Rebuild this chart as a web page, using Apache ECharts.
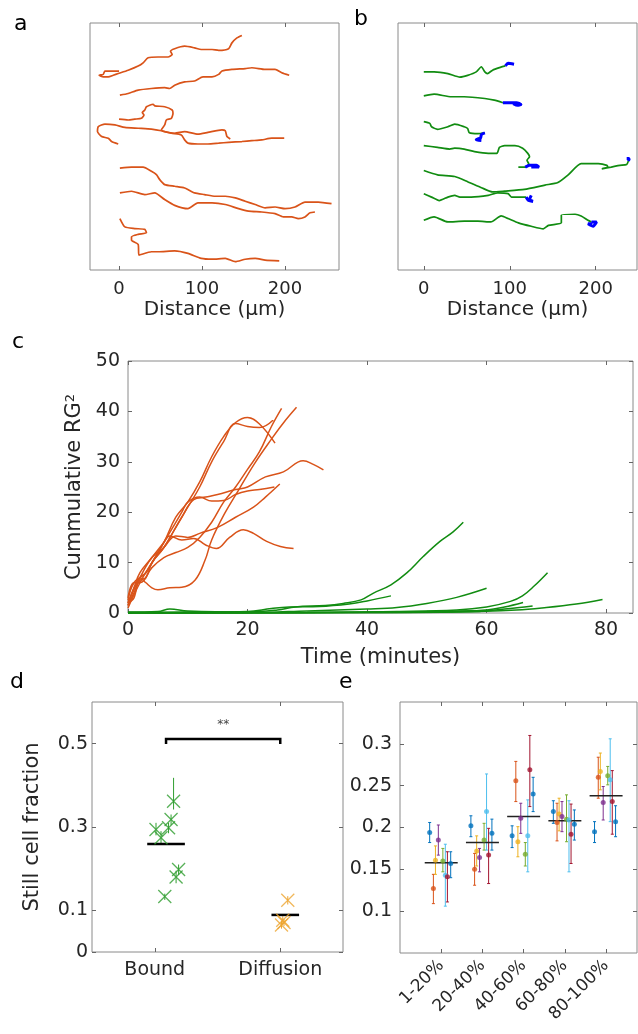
<!DOCTYPE html>
<html>
<head>
<meta charset="utf-8">
<title>Cell tracks</title>
<script src="https://cdn.jsdelivr.net/npm/echarts@6/dist/echarts.min.js"></script>
<style>
  html, body { margin: 0; padding: 0; background: #fff; }
  #main { width: 638px; height: 1034px; }
</style>
</head>
<body>
<div id="main"></div>
<script>
// ========================== 数据 ==========================
// a - 扩散细胞轨迹 (um)
var tracksA = [
  [[0,240],[-5,240],[-17,240],[-19,236],[-24,235],[-19,233],[-13,233],[-7,235],[-1,237],[11,241],[23,246],[29,250],[35,256],[47,257],[59,257],[64,260],[62,264],[67,267],[79,270],[91,268],[99,266],[112,266],[120,265],[132,267],[136,274],[142,280],[148,283]],
  [[1,211],[11,213],[23,217],[39,219],[55,220],[61,219],[67,223],[79,227],[91,228],[101,233],[112,233],[120,236],[124,240],[136,242],[152,243],[160,244],[176,242],[188,242],[196,238],[205,235]],
  [[0,182],[11,181],[19,182],[27,183],[30,187],[28,190],[31,193],[33,197],[41,200],[43,198],[55,197],[64,193],[65,189],[63,183],[57,181],[55,175],[51,169],[55,167],[67,165],[79,167],[95,164],[107,166],[124,169],[128,168],[130,161],[134,158]],
  [[-1,152],[-9,155],[-13,159],[-21,161],[-26,167],[-25,173],[-17,176],[-5,175],[7,172],[23,171],[39,170],[51,168],[63,165],[75,163],[79,157],[83,153],[95,152],[107,152],[120,153],[132,154],[148,155],[160,156],[172,157],[184,159],[199,159]],
  [[1,123],[15,124],[29,124],[39,119],[45,115],[49,109],[55,103],[67,101],[79,99],[91,93],[103,91],[116,89],[128,89],[140,87],[152,83],[164,79],[176,75],[188,76],[200,74],[212,76],[224,82],[240,82],[256,80]],
  [[1,93],[15,95],[31,91],[43,93],[55,85],[67,78],[83,74],[95,81],[112,81],[128,79],[144,74],[156,71],[172,70],[188,68],[198,64],[208,64],[216,62],[224,64],[230,69],[236,70]],
  [[1,62],[7,52],[19,50],[31,49],[33,45],[23,43],[15,40],[15,36],[23,31],[24,18],[39,22],[47,22],[67,23],[83,20],[99,14],[112,13],[128,14],[140,10],[152,13],[164,14],[176,12],[193,11]]
];

// b - 结合细胞轨迹：绿色为移动段，蓝色为静止段
var tracksBMove = [
  [[0,231],[12,231],[28,229],[42,225],[51,227],[61,231],[67,237],[71,231],[74,229],[80,233],[88,236],[95,238]],
  [[0,203],[12,205],[32,202],[47,202],[71,200],[82,198],[92,195]],
  [[0,173],[7,171],[9,167],[16,164],[28,167],[36,170],[47,167],[51,165],[53,160],[63,159],[71,160]],
  [[0,145],[16,143],[30,141],[36,142],[47,141],[59,138],[75,136],[85,136],[88,143],[94,145],[106,145],[115,142],[121,136],[123,132],[120,128],[122,124],[119,120],[110,120],[118,120]],
  [[0,116],[16,111],[36,109],[51,103],[67,96],[80,91],[94,92],[117,94],[141,99],[156,102],[168,111],[183,124],[203,124],[213,122],[214,120],[207,118],[218,120],[228,122],[236,123],[238,127]],
  [[0,89],[9,85],[18,81],[28,85],[36,87],[42,85],[55,85],[75,87],[86,90],[98,89],[102,85],[119,85]],
  [[0,58],[12,62],[28,56],[47,57],[63,57],[78,56],[90,63],[98,60],[110,55],[125,51],[139,48],[145,52],[160,55],[160,64],[176,65],[183,63],[191,58],[195,56]]
];
var tracksBStill = [
  [[95,238],[98,241],[105,240]],
  [[92,195],[102,195],[108,195],[113,193],[109,192],[104,194]],
  [[71,160],[67,158],[66,154],[61,152],[67,151]],
  [[118,120],[123,122],[131,122],[134,120],[125,120]],
  [[238,127],[239,130],[236,130]],
  [[119,85],[122,81],[127,80],[123,82],[125,87]],
  [[195,56],[201,56],[197,51],[191,54],[196,54]]
];

// c - 累计 RG^2 随时间变化 [分钟, 值]
var rgDiffusion = [
  [[0,2],[1,5],[2,7],[3,8],[4,10],[6,14],[8,19],[10,22],[12,26],[14,31],[16,35],[18,37.8],[20,38.8],[22,37.5],[24.6,33.7]],
  [[0,1.5],[1,4],[2,6.5],[3,7],[4,10],[6,13],[8,17],[10,21],[12,25],[14,30],[16,34],[18,37.6],[20,37],[22,36.8],[24.3,38.3]],
  [[0,3],[1,6],[2,6],[4,9],[6,11],[8,12],[10,13],[12,15],[14,18],[16,22],[18,25],[20,28.5],[22,32],[24,37],[25.7,40.6]],
  [[0,2],[1,3],[2,7],[3,6],[4,5],[5,4.6],[7,5],[9,5.1],[11.2,6.5],[12.9,10.5],[14,14.5],[16.2,19.8],[18.5,24.4],[21.2,29.7],[24,34.5],[26,37.7],[28.2,40.8]],
  [[0,1],[2,6],[4,10],[6,13],[9,19],[11,22.5],[13,23],[15,23.5],[18,24.5],[20,25],[23,27],[26,28],[29.3,30.2],[31,29.5],[32.7,28.4]],
  [[0,2],[2,7],[4,11],[6,13],[8,15.3],[10,15],[12,15.8],[15,17],[18,19],[21,21],[23,23],[25.4,25.6]],
  [[0,1.5],[1,5],[2,8],[4,11],[6,14],[7,15.3],[9,14.5],[11,14.8],[13,13.5],[14.8,12.8],[17,15],[19.3,16.5],[21,15.8],[23.2,14.2],[25.5,13.2],[27.7,12.8]],
  [[0,2.5],[1,6],[3,8],[5,12],[7,16],[9,20],[10,22],[12,23],[14,22.2],[16,22.3],[18,23.5],[20,24.2],[22,24.5],[24.5,25]]
];
var rgBound = [
  [[0,0.2],[5,0.3],[7,0.8],[10,0.4],[20,0.2],[25,0.6],[28,1.2],[33,1.5],[36,1.9],[39,2.6],[41,3.9],[44,5.6],[46.6,7.9],[49.4,11.2],[52.2,14.2],[54.4,16.1],[56.1,18]],
  [[0,0.1],[10,0.2],[20,0.3],[24,0.9],[27,1.2],[32,1.3],[37,1.8],[40,2.4],[44,3.4]],
  [[0,0.1],[20,0.1],[30,0.4],[40,0.8],[45,1.1],[50,1.9],[55,3.1],[60,4.9]],
  [[0,0],[30,0.1],[45,0.3],[55,0.6],[60,1.2],[64,2.3],[66,3.4],[68,5.4],[70.2,8]],
  [[0,0],[40,0.1],[55,0.2],[65,0.6],[70,1.1],[75,1.8],[79.4,2.7]],
  [[0,0],[40,0.1],[55,0.3],[60,0.6],[63,1.2],[66.1,2.1]],
  [[0,0],[40,0.1],[58,0.3],[63,0.8],[67.7,1.4]],
  [[0,0],[30,0.1],[50,0.3],[60,0.5]]
];
var cXTicks = [0, 20, 40, 60, 80];
var cYTicks = [0, 10, 20, 30, 40, 50];

// d - 静止细胞比例
var dCategories = ['Bound', 'Diffusion'];
var dYTicks = [0, 0.1, 0.3, 0.5];
var boundShift = [0.01, 0.05, 0.11, 0.13, 0.15, 0.19, 0.17, 0.08];
var boundValue = [0.294, 0.274, 0.298, 0.318, 0.362, 0.198, 0.180, 0.133];
var boundLow = [0.280, 0.260, 0.285, 0.305, 0.342, 0.185, 0.165, 0.125];
var boundHigh = [0.310, 0.290, 0.310, 0.330, 0.418, 0.210, 0.195, 0.140];
var diffShift = [0.06, 0.02, 0.01, 0.03];
var diffValue = [0.124, 0.076, 0.065, 0.071];
var diffLow = [0.114, 0.066, 0.056, 0.062];
var diffHigh = [0.134, 0.086, 0.075, 0.080];
var dMeans = [0.259, 0.089];
var sigLevel = 0.511;

// e - 按区间分组
var eCategories = ['1-20%', '20-40%', '40-60%', '60-80%', '80-100%'];
var eYTicks = [0.1, 0.15, 0.2, 0.25, 0.3];
var eValue = [
  [0.194, 0.127, 0.161, 0.185, 0.160, 0.143, 0.141, 0.157],
  [0.202, 0.150, 0.172, 0.164, 0.185, 0.219, 0.167, 0.193],
  [0.190, 0.256, 0.183, 0.211, 0.168, 0.190, 0.269, 0.240],
  [0.219, 0.206, 0.216, 0.213, 0.210, 0.209, 0.192, 0.204],
  [0.195, 0.260, 0.267, 0.230, 0.262, 0.257, 0.231, 0.207]
];
var eLow = [
  [0.182, 0.109, 0.144, 0.167, 0.147, 0.106, 0.111, 0.140],
  [0.189, 0.131, 0.154, 0.147, 0.173, 0.173, 0.133, 0.173],
  [0.176, 0.231, 0.165, 0.193, 0.154, 0.147, 0.225, 0.219],
  [0.205, 0.184, 0.196, 0.195, 0.183, 0.147, 0.157, 0.185],
  [0.182, 0.235, 0.245, 0.209, 0.251, 0.207, 0.192, 0.189]
];
var eHigh = [
  [0.206, 0.144, 0.178, 0.203, 0.175, 0.180, 0.171, 0.171],
  [0.214, 0.169, 0.190, 0.175, 0.205, 0.264, 0.199, 0.210],
  [0.202, 0.279, 0.201, 0.229, 0.182, 0.233, 0.310, 0.260],
  [0.232, 0.229, 0.235, 0.231, 0.239, 0.232, 0.228, 0.221],
  [0.207, 0.284, 0.289, 0.249, 0.273, 0.306, 0.268, 0.226]
];
var eMeans = [0.158, 0.182, 0.213, 0.208, 0.238];

// ========================== 样式 ==========================
var font = 'DejaVu Sans';
var ink = '#262626';
var orange = '#D95319';
var green = '#118c11';
var blue = '#0000ff';
var eColors = ['#0072BD', '#D95319', '#EDB120', '#7E2F8E', '#77AC30', '#4DBEEE', '#A2142F', '#0072BD'];
var eShift = [-0.28, -0.19, -0.14, -0.07, 0.04, 0.10, 0.15, 0.23];
// d 均值线的偏移与半宽
var dMeanShift = [0.09, 0.04];
var dMeanHalf = [0.15, 0.11];

function tickOpt(values) {
  return { show: true, inside: true, length: 4, customValues: values, lineStyle: { color: '#666', width: 1 } };
}
function labelOpt(values, size, margin, extra) {
  var o = { show: true, customValues: values, color: ink, fontSize: size, fontFamily: font, margin: margin };
  for (var k in extra) o[k] = extra[k];
  return o;
}
function makeAxis(grid, position, min, max, ticks, label, extra) {
  var a = {
    type: 'value',
    gridIndex: grid,
    position: position,
    min: min,
    max: max,
    axisLine: { show: false, onZero: false },
    splitLine: { show: false },
    axisTick: ticks ? tickOpt(ticks) : { show: false },
    axisLabel: label || { show: false }
  };
  for (var k in extra) a[k] = extra[k];
  return a;
}
function nameOpt(text, gap, size) {
  return {
    name: text,
    nameLocation: 'middle',
    nameGap: gap,
    nameTextStyle: { color: ink, fontSize: size, fontFamily: font }
  };
}

// 误差线
function errorBar(color, cap) {
  return function (params, api) {
    var x = api.value(0);
    var top = api.coord([x, api.value(2)]);
    var bot = api.coord([x, api.value(1)]);
    var st = { stroke: color, lineWidth: 1 };
    var kids = [{ type: 'line', shape: { x1: top[0], y1: top[1], x2: bot[0], y2: bot[1] }, style: st }];
    if (cap > 0) {
      kids.push({ type: 'line', shape: { x1: top[0] - cap, y1: top[1], x2: top[0] + cap, y2: top[1] }, style: st });
      kids.push({ type: 'line', shape: { x1: bot[0] - cap, y1: bot[1], x2: bot[0] + cap, y2: bot[1] }, style: st });
    }
    return { type: 'group', children: kids };
  };
}
// 均值横线 (value: x, 均值, 半宽)
function meanLine(color, width) {
  return function (params, api) {
    var x = api.value(0), m = api.value(1), half = api.value(2);
    var p1 = api.coord([x - half, m]);
    var p2 = api.coord([x + half, m]);
    return { type: 'line', shape: { x1: p1[0], y1: p1[1], x2: p2[0], y2: p2[1] }, style: { stroke: color, lineWidth: width } };
  };
}

// ========================== 坐标轴 ==========================
var grids = [
  { left: 90, top: 23, width: 249, height: 247 },   // a
  { left: 398, top: 23, width: 239, height: 247 },  // b
  { left: 128, top: 361, width: 505, height: 252 }, // c
  { left: 92, top: 702, width: 251, height: 250 },  // d
  { left: 400, top: 702, width: 237, height: 251 }  // e
].map(function (g) {
  g.show = true;
  g.borderColor = '#8a8a8a';
  g.borderWidth = 1;
  g.outerBoundsMode = 'none';
  return g;
});

var abTicks = [0, 100, 200];
var dX = [1, 2];
var eX = [1, 2, 3, 4, 5];

var xAxes = [
  makeAxis(0, 'bottom', -35, 265, abTicks, labelOpt(abTicks, 18, 10), nameOpt('Distance (μm)', 30, 20)),
  makeAxis(0, 'top', -35, 265, abTicks, null),
  makeAxis(1, 'bottom', -30, 248, abTicks, labelOpt(abTicks, 18, 10), nameOpt('Distance (μm)', 30, 20)),
  makeAxis(1, 'top', -30, 248, abTicks, null),
  makeAxis(2, 'bottom', 0, 84.5, cXTicks, labelOpt(cXTicks, 19, 8), nameOpt('Time (minutes)', 34, 21)),
  makeAxis(2, 'top', 0, 84.5, cXTicks, null),
  makeAxis(3, 'bottom', 0.5, 2.5, dX, labelOpt(dX, 19, 9, {
    formatter: function (v) { return dCategories[Math.round(v) - 1]; }
  })),
  makeAxis(3, 'top', 0.5, 2.5, dX, null),
  makeAxis(4, 'bottom', 0, 5.75, eX, labelOpt(eX, 17, 10, {
    rotate: 45,
    formatter: function (v) { return eCategories[Math.round(v) - 1]; }
  })),
  makeAxis(4, 'top', 0, 5.75, eX, null)
];

var yAxes = [
  makeAxis(0, 'left', 0, 298, null, null),
  makeAxis(1, 'left', 0, 288, null, null),
  makeAxis(2, 'left', 0, 50, cYTicks, labelOpt(cYTicks, 19, 8), {
    name: '{t|Cummulative RG}{s|2}',
    nameLocation: 'middle',
    nameGap: 38,
    nameTextStyle: {
      rich: {
        t: { color: ink, fontSize: 21, fontFamily: font },
        s: { color: ink, fontSize: 13, fontFamily: font, verticalAlign: 'top' }
      }
    }
  }),
  makeAxis(2, 'right', 0, 50, cYTicks, null),
  makeAxis(3, 'left', 0, 0.6, dYTicks, labelOpt(dYTicks, 19, 4), nameOpt('Still cell fraction', 49, 21)),
  makeAxis(3, 'right', 0, 0.6, dYTicks, null),
  makeAxis(4, 'left', 0.05, 0.35, eYTicks, labelOpt(eYTicks, 19, 8)),
  makeAxis(4, 'right', 0.05, 0.35, eYTicks, null)
];

// ========================== 系列 ==========================
var series = [];

function addLines(list, xi, yi, color, width, smooth) {
  list.forEach(function (track) {
    series.push({
      type: 'line',
      xAxisIndex: xi,
      yAxisIndex: yi,
      data: track,
      symbol: 'none',
      smooth: smooth,
      lineStyle: { color: color, width: width },
      silent: true
    });
  });
}

// a, b 轨迹
addLines(tracksA, 0, 0, orange, 1.7, 0.2);
addLines(tracksBMove, 2, 1, green, 1.7, 0.2);
addLines(tracksBStill, 2, 1, blue, 3, 0.2);

// c 累计 RG^2
addLines(rgDiffusion, 4, 2, orange, 1.5, 0.4);
addLines(rgBound, 4, 2, green, 1.5, 0.4);

// d 静止细胞比例
var dGreen = '#2f9e2f';
var dOrange = '#EDA531';
series.push({
  type: 'custom',
  xAxisIndex: 6,
  yAxisIndex: 4,
  renderItem: errorBar(dGreen, 0),
  data: boundValue.map(function (v, i) { return [dX[0] + boundShift[i], boundLow[i], boundHigh[i]]; })
});
series.push({
  type: 'custom',
  xAxisIndex: 6,
  yAxisIndex: 4,
  renderItem: errorBar(dOrange, 0),
  data: diffValue.map(function (v, i) { return [dX[1] + diffShift[i], diffLow[i], diffHigh[i]]; })
});
series.push({
  type: 'scatter',
  xAxisIndex: 6,
  yAxisIndex: 4,
  symbol: 'path://M0,0L10,10M10,0L0,10',
  symbolSize: 13,
  itemStyle: { color: 'none', borderColor: dGreen, borderWidth: 1.3 },
  data: boundValue.map(function (v, i) { return [dX[0] + boundShift[i], v]; })
});
series.push({
  type: 'scatter',
  xAxisIndex: 6,
  yAxisIndex: 4,
  symbol: 'path://M0,0L10,10M10,0L0,10',
  symbolSize: 13,
  itemStyle: { color: 'none', borderColor: dOrange, borderWidth: 1.3 },
  data: diffValue.map(function (v, i) { return [dX[1] + diffShift[i], v]; })
});
series.push({
  type: 'custom',
  xAxisIndex: 6,
  yAxisIndex: 4,
  renderItem: meanLine('#000', 2.5),
  data: dMeans.map(function (m, i) { return [dX[i] + dMeanShift[i], m, dMeanHalf[i]]; })
});
// 显著性标记
series.push({
  type: 'custom',
  xAxisIndex: 6,
  yAxisIndex: 4,
  renderItem: function (params, api) {
    var l = api.coord([api.value(0), api.value(2)]);
    var r = api.coord([api.value(1), api.value(2)]);
    var drop = 5;
    var st = { stroke: '#000', lineWidth: 2.5, fill: 'none' };
    return {
      type: 'group',
      children: [
        { type: 'polyline', shape: { points: [[l[0], l[1] + drop], l, r, [r[0], r[1] + drop]] }, style: st },
        { type: 'text', x: (l[0] + r[0]) / 2, y: l[1] - 8, style: { text: '**', fill: '#444', fontSize: 12, fontFamily: font, align: 'center', verticalAlign: 'bottom' } }
      ]
    };
  },
  data: [[dX[0] + dMeanShift[0], dX[1], sigLevel]]
});

// e 分组误差线
eColors.forEach(function (c, s) {
  series.push({
    type: 'custom',
    xAxisIndex: 8,
    yAxisIndex: 6,
    renderItem: errorBar(c, 1.5),
    data: eValue.map(function (g, gi) { return [eX[gi] + eShift[s], eLow[gi][s], eHigh[gi][s]]; })
  });
  series.push({
    type: 'scatter',
    xAxisIndex: 8,
    yAxisIndex: 6,
    symbolSize: 5,
    itemStyle: { color: c },
    data: eValue.map(function (g, gi) { return [eX[gi] + eShift[s], g[s]]; })
  });
});
series.push({
  type: 'custom',
  xAxisIndex: 8,
  yAxisIndex: 6,
  renderItem: meanLine('#222', 1.5),
  data: eMeans.map(function (m, i) { return [eX[i], m, 0.4]; })
});

// ========================== 面板字母 ==========================
function letter(t, x, y) {
  return { type: 'text', x: x, y: y, style: { text: t, fill: '#000', fontSize: 22, fontFamily: font, verticalAlign: 'top' } };
}

var myChart = echarts.init(document.getElementById('main'));
myChart.setOption({
  animation: false,
  textStyle: { fontFamily: font },
  grid: grids,
  xAxis: xAxes,
  yAxis: yAxes,
  series: series,
  graphic: [
    letter('a', 14, 13),
    letter('b', 354, 8),
    letter('c', 12, 331),
    letter('d', 10, 671),
    letter('e', 339, 671)
  ]
});
</script>
</body>
</html>
